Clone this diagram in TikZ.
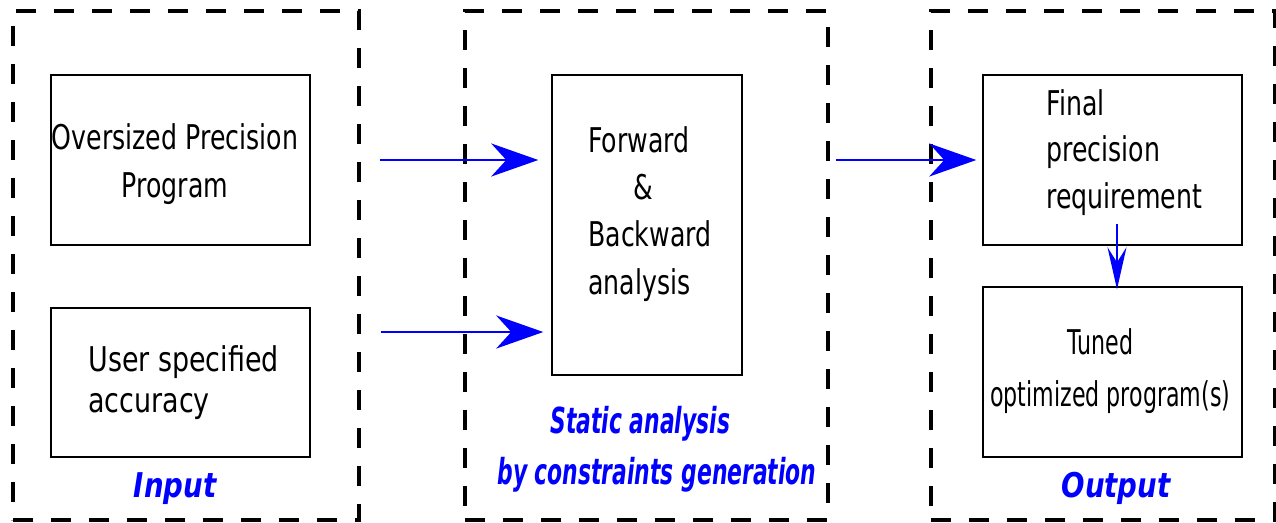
\documentclass[tikz,border=0pt]{standalone}
\usepackage{fontspec}
\setmainfont{DejaVu Sans}[FakeStretch=0.74]
\newfontfamily\widefont{DejaVu Sans}[FakeStretch=0.79]
\newfontfamily\narrowfont{DejaVu Sans}[FakeStretch=0.65]
\newfontfamily\tagfont{DejaVu Sans}[FakeStretch=0.61]
\newfontfamily\widetagfont{DejaVu Sans}[FakeStretch=0.81]
\usetikzlibrary{arrows.meta, positioning}

\begin{document}
\begin{tikzpicture}[
    x=0.02cm, y=-0.02cm,
    frame/.style={rectangle, draw, line width=0.07cm, dash pattern=on 0.4cm off 0.36cm, inner sep=0},
    block/.style={rectangle, draw, line width=0.03cm, inner sep=0, minimum width=5.18cm, minimum height=3.4cm},
    blocktext/.style={inner sep=0, font=\fontsize{19.4}{26.8}\selectfont},
    tag/.style={inner sep=0, text=blue, font=\tagfont\bfseries\itshape\fontsize{20.4}{28.5}\selectfont},
    arrow/.style={-{Stealth[length=0.94cm, width=0.66cm, inset=0.3cm]}, blue, line width=0.055cm},
    thinarrow/.style={-{Stealth[length=0.84cm, width=0.38cm, inset=0.3cm]}, blue, line width=0.04cm},
]
    \useasboundingbox (0,0) rectangle (1276,522);

    % Dashed stage frames
    \node[frame, minimum width=6.92cm, minimum height=10.18cm] (inframe) at (186,265.5) {};
    \node[frame, minimum width=7.26cm, minimum height=10.18cm] (midframe) at (646.5,265.5) {};
    \node[frame, minimum width=6.88cm, minimum height=10.18cm] (outframe) at (1103,265.5) {};

    % Input blocks (base anchor = last line)
    \node[block] (over) at (180.5,160) {};
    \node[block, minimum height=2.98cm] (user) at (180.5,382.5) {};
    \node[blocktext, align=center, anchor=base] (overtext) at (175,197) {Oversized Precision\\Program};
    \node[blocktext, align=left, anchor=base west, font=\widefont\fontsize{19.4}{22.8}\selectfont] (usertext) at (88,412) {User specified\\accuracy};

    % Analysis block
    \node[block, minimum width=3.8cm, minimum height=6cm] (fwd) at (647,225) {};
    \node[blocktext, align=left, anchor=base west] (fwdtext) at (588,294) {Forward\\\hspace*{0.9cm}\&\\Backward\\analysis};

    % Output blocks
    \node[block] (final) at (1112.5,160) {};
    \node[block] (tuned) at (1112.5,372) {};
    \node[blocktext, align=left, anchor=base west, font=\fontsize{19.4}{26.2}\selectfont] (finaltext) at (1046,208) {Final\\precision\\requirement};
    \node[blocktext, align=left, anchor=base west, font=\narrowfont\fontsize{19.4}{29.6}\selectfont] (tunedtext) at (990,406) {\hspace*{1.54cm}Tuned\\optimized program(s)};

    % Stage names
    \node[tag, anchor=base, font=\widetagfont\bfseries\itshape\fontsize{19.4}{28.5}\selectfont] (intag) at (175,497) {Input};
    \node[tag, align=left, anchor=base west] (midtag) at (497,484) {\hspace*{1.06cm}Static analysis\\by constraints generation};
    \node[tag, anchor=base, font=\widetagfont\bfseries\itshape\fontsize{19.4}{28.5}\selectfont] (outtag) at (1116,497) {Output};

    % Arrows
    \draw[arrow, shorten <=1.38cm, shorten >=0.26cm] (over.east) -- (over.east -| fwd.west);
    \draw[arrow, shorten <=1.4cm, shorten >=0.16cm] ([yshift=1.01cm]user.east) -- ([yshift=1.01cm]user.east -| fwd.west);
    \draw[arrow, shorten <=1.86cm, shorten >=0.12cm] (fwd.east |- final.west) -- (final.west);
    \draw[thinarrow] ([xshift=0.09cm, yshift=0.44cm]final.south) -- ([xshift=0.09cm, yshift=-0.06cm]tuned.north);

\end{tikzpicture}
\end{document}
